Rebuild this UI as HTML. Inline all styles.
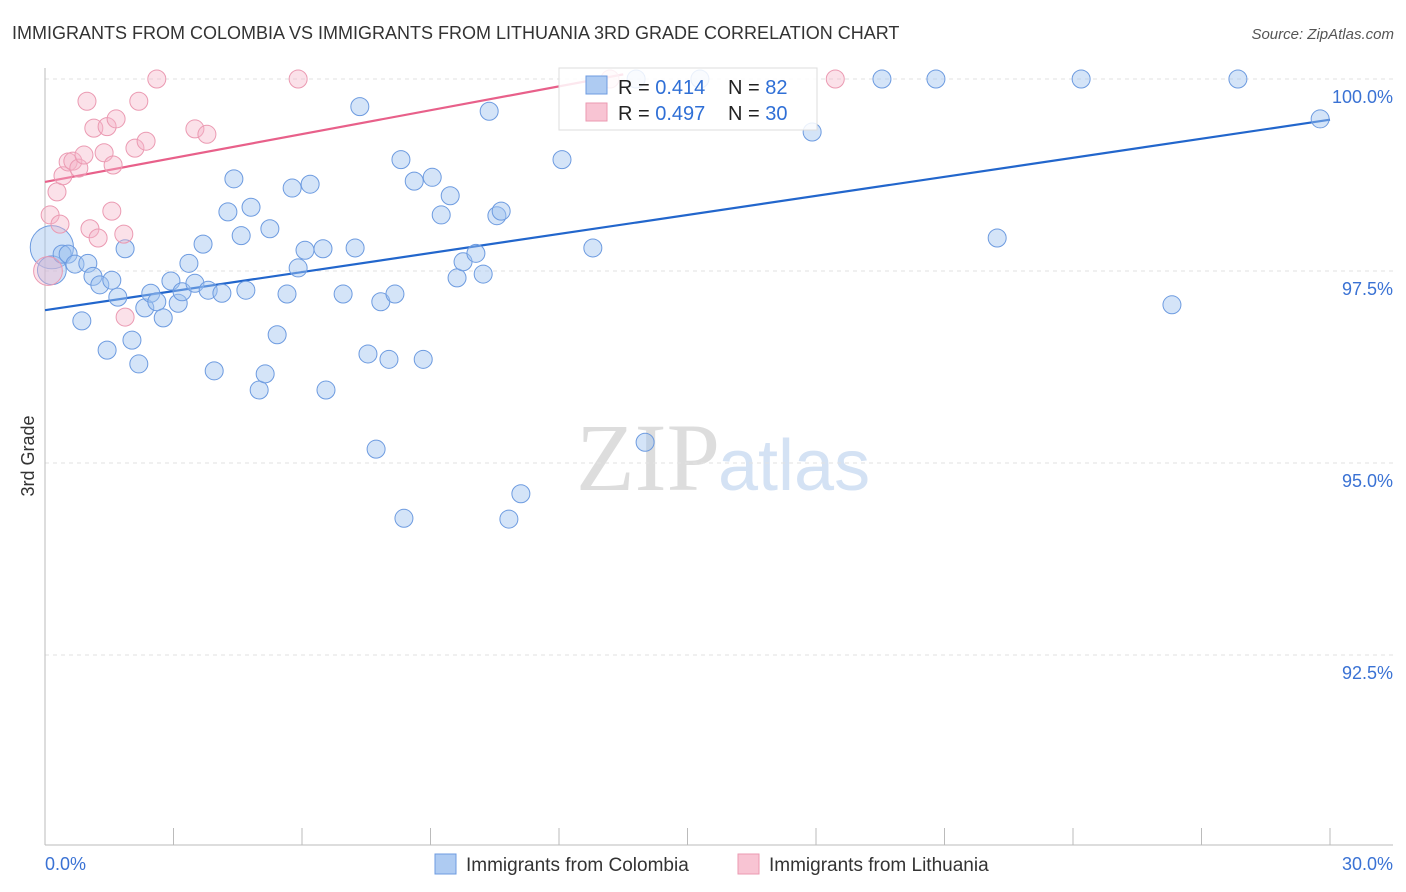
<!DOCTYPE html>
<html><head><meta charset="utf-8"><style>
body{margin:0;background:#fff;font-family:"Liberation Sans",sans-serif}
svg{display:block}
</style></head><body>
<svg id="c" width="1406" height="892" xmlns="http://www.w3.org/2000/svg">
<text x="12" y="39" font-size="18" fill="#333">IMMIGRANTS FROM COLOMBIA VS IMMIGRANTS FROM LITHUANIA 3RD GRADE CORRELATION CHART</text>
<text x="1394" y="39" font-size="15" fill="#555" font-style="italic" text-anchor="end">Source: ZipAtlas.com</text>
<text x="720" y="490" font-size="96" fill="#ddd" text-anchor="end" font-family="Liberation Serif">ZIP</text>
<text x="718" y="490" font-size="72" fill="#d4e2f4">atlas</text>
<text transform="translate(34,456) rotate(-90)" font-size="18" fill="#333" text-anchor="middle">3rd Grade</text>
<g id="grid"></g><g id="axes"></g><g id="lines"></g><g id="pts"></g>
<g>
<rect x="559" y="68" width="258" height="62" fill="rgba(255,255,255,0.85)" stroke="#ddd"/>
<rect x="586" y="76" width="21" height="18" fill="#aecbf2" stroke="#6d9be0"/>
<rect x="586" y="103" width="21" height="18" fill="#f8c4d3" stroke="#eb9ab2"/>
<text x="618" y="94" font-size="20" fill="#222">R = <tspan fill="#2f6fd6">0.414</tspan></text>
<text x="728" y="94" font-size="20" fill="#222">N = <tspan fill="#2f6fd6">82</tspan></text>
<text x="618" y="120" font-size="20" fill="#222">R = <tspan fill="#2f6fd6">0.497</tspan></text>
<text x="728" y="120" font-size="20" fill="#222">N = <tspan fill="#2f6fd6">30</tspan></text>
</g>
<g>
<rect x="435" y="854" width="21" height="20" fill="#aecbf2" stroke="#6d9be0"/>
<text x="466" y="871" font-size="19" fill="#333">Immigrants from Colombia</text>
<rect x="738" y="854" width="21" height="20" fill="#f8c4d3" stroke="#eb9ab2"/>
<text x="769" y="871" font-size="19" fill="#333">Immigrants from Lithuania</text>
</g>
</svg>
<script>
const blueX=[0.16,0.16,0.40,0.54,0.70,1.00,1.12,1.28,1.56,1.70,1.87,1.45,0.86,2.03,2.19,2.33,2.47,2.61,2.76,2.94,3.11,3.20,3.36,3.50,3.69,3.81,3.95,4.13,4.27,4.41,4.58,4.69,4.81,5.00,5.14,5.25,5.42,5.65,5.77,5.91,6.07,6.19,6.49,6.56,6.96,7.24,7.35,7.54,7.73,7.84,8.03,8.17,8.31,8.38,8.62,8.83,9.04,9.25,9.46,9.62,9.76,10.06,10.23,10.37,10.55,10.65,10.83,11.11,12.07,12.79,13.80,14.01,15.29,17.91,19.54,20.80,22.23,24.19,26.31,27.85,29.77];
const blueY=[97.81,97.51,97.72,97.72,97.59,97.60,97.43,97.32,97.38,97.16,97.79,96.47,96.85,96.60,96.29,97.02,97.21,97.10,96.89,97.37,97.08,97.23,97.60,97.34,97.85,97.25,96.20,97.21,98.27,98.70,97.96,97.25,98.33,95.95,96.16,98.05,96.67,97.20,98.58,97.54,97.77,98.63,97.79,95.95,97.20,97.80,99.64,96.42,95.18,97.10,96.35,97.20,98.95,94.28,98.67,96.35,98.72,98.23,98.48,97.41,97.62,97.73,97.46,99.58,98.22,98.28,94.27,94.60,98.95,97.80,100,95.27,100,99.31,100,100,97.93,100,97.06,100,99.48];
const blueSize=[3,2];
const pinkX=[0.07,0.12,0.28,0.35,0.42,0.54,0.65,0.79,0.91,0.98,1.05,1.14,1.24,1.38,1.45,1.59,1.66,1.56,1.84,1.87,2.10,2.19,2.36,2.61,3.50,3.78,5.91,13.19,18.45];
const pinkY=[97.50,98.23,98.53,98.11,98.74,98.92,98.93,98.84,99.01,99.71,98.05,99.36,97.93,99.04,99.38,98.88,99.48,98.28,97.98,96.90,99.10,99.71,99.19,100,99.35,99.28,100,100,100];
const pinkSize=[2];
const blueTrend=[[0,96.99],[30,99.47]];
const pinkTrend=[[0,98.66],[13.5,100.06]];
const yTicks=[100,97.5,95,92.5];
const yTickLabels=["100.0%","97.5%","95.0%","92.5%"];
const xTicks=[0,3,6,9,12,15,18,21,24,27,30];
const NS="http://www.w3.org/2000/svg";
const X=v=>45+v*1285/30, Y=v=>79+(100-v)*192/2.5;
function mk(t,a,p){const e=document.createElementNS(NS,t);for(const k in a)e.setAttribute(k,a[k]);p.appendChild(e);return e;}
const grid=document.getElementById('grid'),axes=document.getElementById('axes'),lines=document.getElementById('lines'),pts=document.getElementById('pts');
yTicks.forEach((v,i)=>{
 const l=mk('line',{x1:45,x2:1393,y1:Y(v),y2:Y(v),stroke:'#e2e2e2','stroke-dasharray':'4,4'},grid);
 
 
 const t=mk('text',{x:1393,y:Y(v)+24,'font-size':18,fill:'#3a72d4','text-anchor':'end'},axes);
 t.textContent=yTickLabels[i];
 
 
});
const ya=mk('line',{x1:45,x2:45,y1:68,y2:845,stroke:'#bbb'},axes);


const xa=mk('line',{x1:45,x2:1393,y1:845,y2:845,stroke:'#bbb'},axes);


xTicks.forEach(v=>{
 const t=mk('line',{x1:X(v),x2:X(v),y1:828,y2:845,stroke:'#bbb'},axes);
 
 
});
const x0=mk('text',{x:45,y:870,'font-size':18,fill:'#3a72d4'},axes);x0.textContent='0.0%';


const x1=mk('text',{x:1393,y:870,'font-size':18,fill:'#3a72d4','text-anchor':'end'},axes);x1.textContent='30.0%';


function drawPts(xs,ys,sz,fill,stroke,name){
 xs.forEach((x,i)=>{
  const r=9*(sz[i]||1)*(sz[i]>1?0.8:1);
  const c=mk('circle',{cx:X(x),cy:Y(ys[i]),r:r,fill:fill,stroke:stroke,'stroke-width':1},pts);
  
  
 });
}
drawPts(blueX,blueY,blueSize,'rgba(160,196,240,0.45)','#6d9be0','colombia-point');
drawPts(pinkX,pinkY,pinkSize,'rgba(246,180,200,0.4)','#eb9ab2','lithuania-point');
const bl=mk('line',{x1:X(blueTrend[0][0]),y1:Y(blueTrend[0][1]),x2:X(blueTrend[1][0]),y2:Y(blueTrend[1][1]),stroke:'#2266cc','stroke-width':2.2},lines);


const pl=mk('line',{x1:X(pinkTrend[0][0]),y1:Y(pinkTrend[0][1]),x2:X(pinkTrend[1][0]),y2:Y(pinkTrend[1][1]),stroke:'#e8608a','stroke-width':2.2},lines);


</script>
</body></html>
